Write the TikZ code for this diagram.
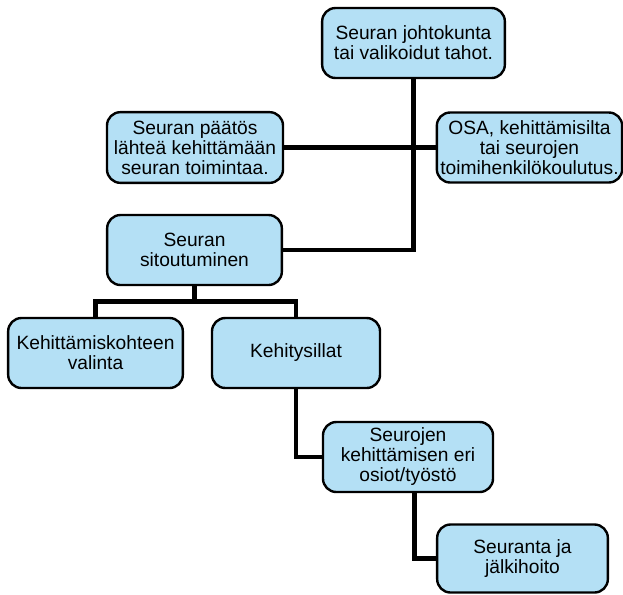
\documentclass[tikz,border=0pt]{standalone}
\usepackage{fontspec}
\setmainfont{Liberation Sans}
\usepackage{tikz}
\usetikzlibrary{positioning}
\definecolor{boxblue}{RGB}{180,224,245}
\tikzstyle{box}  = [draw=black, line width=1.8pt, fill=boxblue, rounded corners=10pt, align=center, inner sep=2pt, font=\fontsize{14.4}{15}\selectfont]
\tikzstyle{link} = [line width=3.6pt]

\begin{document}
\begin{tikzpicture}[x=0.75pt,y=-0.75pt]
        \useasboundingbox (0,0) rectangle (623,594);
        \node[box, minimum width=137pt, minimum height=52.5pt] (johto) at (413.5,43) {Seuran johtokunta\\tai valikoidut tahot.};
        \node[box, minimum width=132pt, minimum height=53pt] (paatos) at (195,147.5) {Seuran päätös\\lähteä kehittämään\\seuran toimintaa.};
        \node[box, minimum width=139pt, minimum height=52.5pt] (osa) at (529.5,147.5) {OSA, kehittämisilta\\tai seurojen\\toimihenkilökoulutus.};
        \node[box, minimum width=131pt, minimum height=52.5pt] (sitou) at (194.5,250) {Seuran\\sitoutuminen};
        \node[box, minimum width=131pt, minimum height=52.5pt] (kohde) at (95.5,353) {Kehittämiskohteen\\valinta};
        \node[box, minimum width=126pt, minimum height=52.5pt] (sillat) at (296,353) {Kehitysillat};
        \node[box, minimum width=127.5pt, minimum height=52.5pt] (osiot) at (408,457) {Seurojen\\kehittämisen eri\\osiot/työstö};
        \node[box, minimum width=128pt, minimum height=51pt] (seuranta) at (522.5,558.5) {Seuranta ja\\jälkihoito};

        \draw[link] (johto.south) |- (sitou.east);
        \draw[link] (paatos.east) -- (osa.west);
        \draw[link] (sitou.south) -- ++(0,15) coordinate (split);
        \draw[link] (split) -| (kohde.north);
        \draw[link] (split) -| (sillat.north);
        \draw[link] (sillat.south) |- (osiot.west);
        \draw[link] ([xshift=5pt]osiot.south) |- (seuranta.west);
    \end{tikzpicture}
\end{document}
